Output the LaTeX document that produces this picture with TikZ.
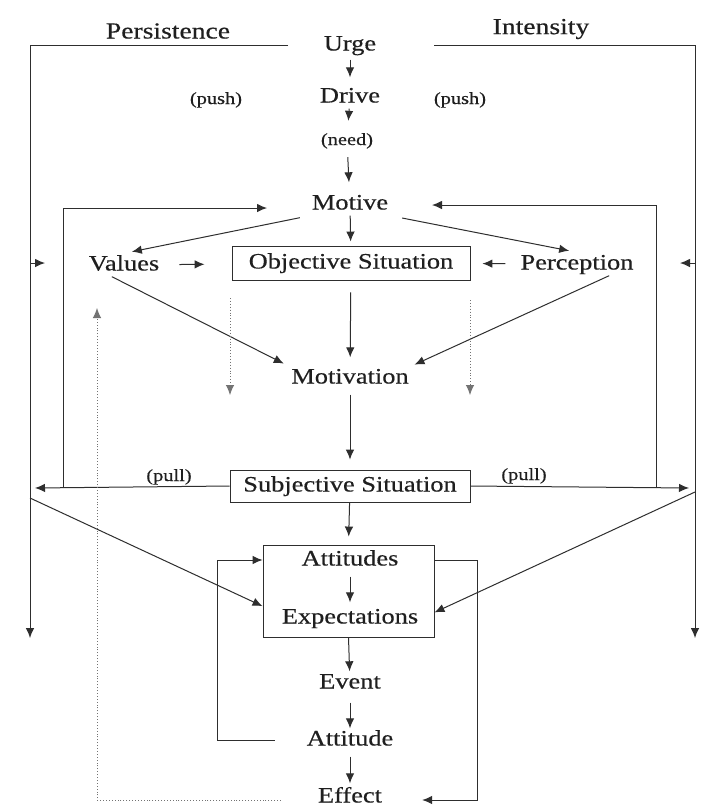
\documentclass[tikz,border=0pt]{standalone}
\usepackage{fontspec}
\setmainfont{Liberation Serif}[FakeStretch=1.2,FakeBold=0.4]
\usetikzlibrary{arrows.meta,calc}
\definecolor{linec}{gray}{0.18}
\definecolor{dotc}{gray}{0.45}
\begin{document}
\begin{tikzpicture}[x=1pt,y=-1pt,
 lbl/.style={font=\fontsize{22}{24}\selectfont, inner sep=2pt, text height=15pt, text depth=4pt, text=black!88},
 small/.style={font=\fontsize{17}{19}\selectfont, inner sep=1pt, text height=12pt, text depth=4pt, text=black!88},
 head/.style={font=\fontsize{23}{25}\selectfont, inner sep=2pt, text=black!88},
 boxed/.style={draw=linec, line width=0.9pt},
 conn/.style={draw=linec, line width=1pt},
 arr/.style={conn, -{Latex[length=10pt,width=8.5pt]}},
 dots/.style={draw=dotc, line width=0.9pt, dotted},
 darr/.style={dots, -{Latex[length=10pt,width=8.5pt]}}]
\useasboundingbox[fill=white] (0,0) rectangle (704,807);

% headings
\node[head] (pers) at (168,31) {Persistence};
\node[head] (inten) at (541,29) {Intensity};

% main column
\node[lbl] (urge) at (350,45) {Urge};
\node[lbl] (drive) at (350,97) {Drive};
\node[small] (need) at (347,141) {(need)};
\node[small] (pushL) at (216,100) {(push)};
\node[small] (pushR) at (460,100) {(push)};
\node[lbl] (motive) at (350,204) {Motive};
\node[lbl] (values) at (124,265) {Values};
\node[lbl, boxed, minimum width=238pt, minimum height=34pt] (obj) at (351,263) {Objective Situation};
\node[lbl] (perc) at (577,264) {Perception};
\node[lbl] (motivation) at (350,378) {Motivation};
\node[lbl, boxed, minimum width=240pt, minimum height=32pt] (subj) at (350,486) {Subjective Situation};
\node[small] (pullL) at (169,477) {(pull)};
\node[small] (pullR) at (524,476) {(pull)};
\node[boxed, minimum width=171pt, minimum height=92pt, inner sep=0pt] (abox) at (348.5,591) {};
\node[lbl] (att) at (350,560) {Attitudes};
\node[lbl] (exp) at (350,618) {Expectations};
\node[lbl] (event) at (350,683) {Event};
\node[lbl] (attitude) at (350,740) {Attitude};
\node[lbl, text depth=2pt] (effect) at (350,796) {Effect};

% coordinates
\coordinate (tl1) at (288,45);
\coordinate (tl2) at (30,45);
\coordinate (tl3) at (30,638);
\coordinate (tr1) at (434,45);
\coordinate (tr2) at (695,45);
\coordinate (tr3) at (695,638);
\coordinate (sl1) at (30,263);
\coordinate (sl2) at (45,263);
\coordinate (sr1) at (695,263);
\coordinate (sr2) at (680,263);
\coordinate (lp1) at (63,488);
\coordinate (lp3) at (267,208);
\coordinate (rp1) at (656,488);
\coordinate (rp3) at (432,205);
\coordinate (pl) at (35,488);
\coordinate (pr) at (689,488);
\coordinate (ld) at (30,498);
\coordinate (rd) at (695,492);
\coordinate (alx) at (217,560);
\coordinate (arx1) at (477,560);
\coordinate (arx2) at (477,800);
\coordinate (dfb1) at (97,800);
\coordinate (dfb2) at (97,308);
\coordinate (dA1) at (230,298);
\coordinate (dA2) at (230,395);
\coordinate (dB1) at (470,300);
\coordinate (dB2) at (470,395);

% outer frames
\draw[arr] (tl1) -- (tl2) -- (tl3);
\draw[arr] (tr1) -- (tr2) -- (tr3);
\draw[arr] (sl1) -- (sl2);
\draw[arr] (sr1) -- (sr2);

% column arrows
\draw[arr, shorten <=3pt, shorten >=8pt] (urge) -- (drive);
\draw[arr, shorten >=11pt] (drive) -- (need);
\draw[arr, shorten <=7pt, shorten >=10pt] (need) -- (motive);
\draw[arr, shorten >=4pt] (motive) -- (obj);
\draw[arr, shorten <=12pt, shorten >=9pt] (obj) -- (motivation);
\draw[arr, shorten <=5pt, shorten >=10pt] (motivation) -- (subj);
\draw[arr, shorten >=8pt] (subj) -- (abox.north);
\draw[arr, shorten <=5pt, shorten >=4pt] (att) -- (exp);
\draw[arr] (abox.south) -- (event);
\draw[arr, shorten <=8pt] (event) -- (attitude);
\draw[arr, shorten <=5pt, shorten >=2pt] (attitude) -- (effect);

% motive fan
\draw[arr, shorten <=10pt, shorten >=8pt] (motive.south west) -- (values.north);
\draw[arr, shorten <=12pt, shorten >=8pt] (motive.south east) -- (perc.north);
\draw[arr, shorten <=18pt, shorten >=27pt] (values) -- (obj);
\draw[arr, shorten <=13pt, shorten >=12pt] (perc) -- (obj);
\draw[arr, shorten >=6pt] (values.-136) -- (motivation.north west);
\draw[arr, shorten >=4pt] (perc.-20) -- (motivation.north east);

% loops to motive
\draw[arr] (lp1) |- (lp3);
\draw[arr] (rp1) |- (rp3);

% pull
\draw[arr] (subj.west) -- (pl);
\draw[arr] (subj.east) -- (pr);

% diagonals
\draw[arr] (ld) -- (abox.190);
\draw[arr] (rd) -- (abox.-14);

% attitude loops
\draw[arr, shorten <=30pt] (attitude.west) -| (alx) -- (att -| abox.west);
\draw[arr, shorten >=38pt] (att -| abox.east) -- (arx1) -- (arx2) -- (effect.east |- arx2);

% dotted
\draw[darr] (dA1) -- (dA2);
\draw[darr] (dB1) -- (dB2);
\draw[darr, shorten <=35pt] (effect.west |- dfb1) -- (dfb1) -- (dfb2);
\end{tikzpicture}
\end{document}
